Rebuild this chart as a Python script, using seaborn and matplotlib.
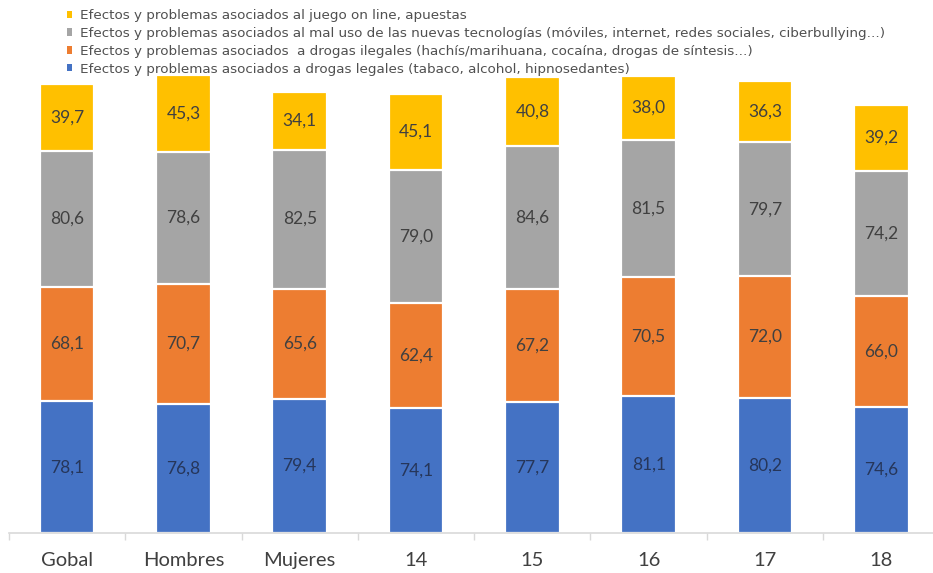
import matplotlib
matplotlib.use("Agg")
import matplotlib.pyplot as plt
from matplotlib.patches import Patch
from matplotlib.ticker import FixedLocator
import numpy as np
import pandas as pd
import seaborn as sns

categories = ["Gobal", "Hombres", "Mujeres", "14", "15", "16", "17", "18"]
legales = [78.1, 76.8, 79.4, 74.1, 77.7, 81.1, 80.2, 74.6]
ilegales = [68.1, 70.7, 65.6, 62.4, 67.2, 70.5, 72.0, 66.0]
tecnologias = [80.6, 78.6, 82.5, 79.0, 84.6, 81.5, 79.7, 74.2]
juego = [39.7, 45.3, 34.1, 45.1, 40.8, 38.0, 36.3, 39.2]

series_names = [
    "Efectos y problemas asociados a drogas legales (tabaco, alcohol, hipnosedantes)",
    "Efectos y problemas asociados  a drogas ilegales (hachís/marihuana, cocaína, drogas de síntesis...)",
    "Efectos y problemas asociados al mal uso de las nuevas tecnologías (móviles, internet, redes sociales, ciberbullying...)",
    "Efectos y problemas asociados al juego on line, apuestas",
]
series_values = [legales, ilegales, tecnologias, juego]
colors = ["#4472C4", "#ED7D31", "#A5A5A5", "#FFC000"]
label_colors = ["#26365A", "#404040", "#404040", "#404040"]

sns.set_theme(style="white")
plt.rcParams["font.family"] = ["Lato", "DejaVu Sans"]

fig = plt.figure(figsize=(9.33, 5.73), dpi=100)
ax = fig.add_axes([9 / 933, 40 / 573, 924 / 933, 472 / 573])

vals = np.array(series_values)
cum = np.cumsum(vals, axis=0)
bottoms = cum - vals

# draw cumulative totals from the top layer down so each segment sits on the next
for i in reversed(range(len(series_values))):
    df = pd.DataFrame({"cat": categories, "total": cum[i]})
    sns.barplot(data=df, x="cat", y="total", color=colors[i], saturation=1,
                width=0.47, edgecolor="white", linewidth=1.6, ax=ax)

for i, v in enumerate(series_values):
    for j, val in enumerate(v):
        ax.text(j, bottoms[i][j] + val / 2, f"{val:.1f}".replace(".", ","),
                ha="center", va="center", fontsize=12.5, color=label_colors[i])

ax.set_xlim(-0.5, 7.445)
ax.set_ylim(0, 280)
ax.set_xlabel("")
ax.set_ylabel("")
ax.set_yticks([])
for s in ["top", "right", "left"]:
    ax.spines[s].set_visible(False)
ax.spines["bottom"].set_color("#D9D9D9")
ax.spines["bottom"].set_linewidth(1.2)

ax.xaxis.set_minor_locator(FixedLocator(np.arange(-0.5, 8, 1)))
ax.tick_params(axis="x", which="major", length=0, labelsize=14.5, colors="#404040", pad=14)
ax.tick_params(axis="x", which="minor", length=5, width=1, color="#D9D9D9", bottom=True)

handles = [Patch(facecolor=colors[i], edgecolor="none", label=series_names[i])
           for i in reversed(range(4))]
leg = fig.legend(handles=handles, loc="upper left", bbox_to_anchor=(67 / 933, 1 - 9 / 573),
                 frameon=False, handlelength=0.4, handleheight=0.45,
                 handletextpad=0.55, labelspacing=0.36, borderaxespad=0, borderpad=0,
                 labelcolor="#505050",
                 prop={"family": "DejaVu Sans", "size": 9.7})

fig.savefig("out.png", dpi=100, facecolor="white")
